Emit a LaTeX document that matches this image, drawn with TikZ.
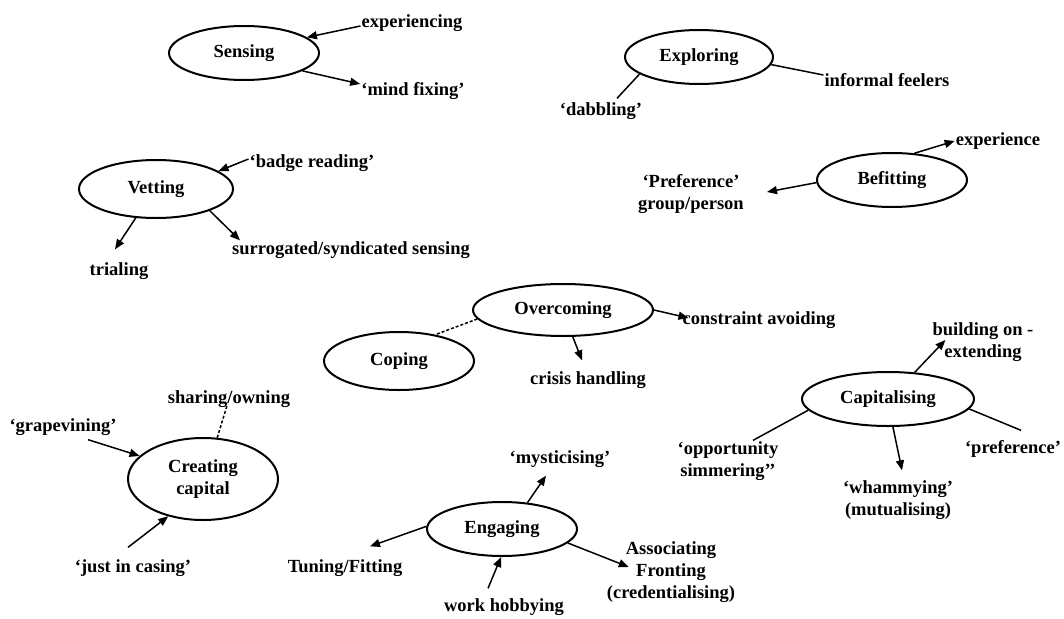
\documentclass[tikz,border=0pt]{standalone}
\usepackage{fontspec}
\setmainfont{Liberation Serif}
\usetikzlibrary{shapes.geometric,arrows.meta}
\begin{document}
\begin{tikzpicture}[x=1pt,y=-1pt,
  every node/.style={font=\fontsize{18.5}{22}\selectfont\bfseries},
  oval/.style={ellipse,draw,line width=2pt,inner sep=0pt},
  lbl/.style={inner sep=1pt,align=center},
  arr/.style={line width=1.5pt,-{Triangle[length=10pt,width=8pt]}},
  ln/.style={line width=1.5pt},
  dsh/.style={line width=1.5pt,dash pattern=on 3pt off 2pt}]
\useasboundingbox (0,0) rectangle (1064,618);
% ellipses
\node[oval,minimum width=150pt,minimum height=54pt] (sens) at (244,53) {Sensing};
\node[oval,minimum width=148pt,minimum height=54pt] (expl) at (699,57) {Exploring};
\node[oval,minimum width=150pt,minimum height=54pt] (befit) at (892,180) {Befitting};
\node[oval,minimum width=154pt,minimum height=58pt] (vet) at (156,189) {Vetting};
\node[oval,minimum width=180pt,minimum height=52pt] (over) at (563,310) {Overcoming};
\node[oval,minimum width=150pt,minimum height=58pt] (cop) at (399,361) {Coping};
\node[oval,minimum width=172pt,minimum height=54pt] (cap) at (888,399) {Capitalising};
\node[oval,minimum width=150pt,minimum height=82pt,align=center] (create) at (203,479) {Creating\\capital};
\node[oval,minimum width=150pt,minimum height=54pt] (eng) at (502,529) {Engaging};
% labels
\node[lbl] (expg) at (412,23) {experiencing};
\node[lbl] (mind) at (413,91) {‘mind fixing’};
\node[lbl] (inf) at (887,80) {informal feelers};
\node[lbl] (dab) at (601,111) {‘dabbling’};
\node[lbl] (exper) at (998,141) {experience};
\node[lbl] (pref) at (691,194) {‘Preference’\\group/person};
\node[lbl] (badge) at (312,163) {‘badge reading’};
\node[lbl] (trial) at (119,271) {trialing};
\node[lbl] (surro) at (351,250) {surrogated/syndicated sensing};
\node[lbl] (cons) at (759,320) {constraint avoiding};
\node[lbl] (crisis) at (588,380) {crisis handling};
\node[lbl] (build) at (983,342) {building on -\\extending};
\node[lbl] (opp) at (728,461) {‘opportunity\\simmering’’};
\node[lbl] (pref2) at (1013,449) {‘preference’};
\node[lbl] (wham) at (898,500) {‘whammying’\\(mutualising)};
\node[lbl] (share) at (229,399) {sharing/owning};
\node[lbl] (grape) at (63,427) {‘grapevining’};
\node[lbl] (just) at (133,568) {‘just in casing’};
\node[lbl] (myst) at (560,459) {‘mysticising’};
\node[lbl] (tun) at (345,568) {Tuning/Fitting};
\node[lbl] (work) at (504,607) {work hobbying};
\node[lbl] (assoc) at (671,572) {Associating\\Fronting\\(credentialising)};
% connectors
\draw[arr] ([yshift=-3pt]expg.west) -- (sens.14);
\draw[arr] (sens.-17) -- ([yshift=7pt]mind.west);
\draw[ln] (expl.-6) -- ([yshift=5pt]inf.west);
\draw[ln] (expl.196) -- ([xshift=16pt,yshift=3pt]dab.north);
\draw[arr] (befit.50) -- (exper.west);
\draw[arr] (befit.182) -- ([xshift=22pt,yshift=2pt]pref.east);
\draw[arr] ([yshift=4pt]badge.west) -- (vet.16);
\draw[arr] (vet.235) -- ([xshift=-4pt,yshift=12pt]trial.north);
\draw[arr] (vet.-22) -- ([xshift=9pt]surro.north west);
\draw[dsh] (over.186) -- (cop.36);
\draw[arr] (over.0) -- ([xshift=7pt,yshift=2pt]cons.west);
\draw[arr] (over.-70) -- ([xshift=-6pt,yshift=10pt]crisis.north);
\draw[arr] (cap.45) -- ([xshift=14pt,yshift=2pt]build.west);
\draw[ln] (cap.188) -- ([xshift=25pt]opp.north);
\draw[ln] (cap.-7) -- ([xshift=8pt,yshift=9pt]pref2.north);
\draw[arr] (cap.-80) -- ([xshift=4pt,yshift=9pt]wham.north);
\draw[dsh] (create.71) -- ([xshift=-2pt,yshift=3pt]share.south);
\draw[arr] ([xshift=25pt,yshift=-3pt]grape.south) -- (create.160);
\draw[arr] ([xshift=-5pt,yshift=11pt]just.north) -- (create.227);
\draw[arr] (eng.46) -- ([xshift=-14pt,yshift=-7pt]myst.south);
\draw[arr] (eng.178) -- ([xshift=25pt,yshift=12pt]tun.north);
\draw[arr] ([xshift=-16pt,yshift=9pt]work.north) -- (eng.-92);
\draw[arr] (eng.-12) -- ([xshift=23pt,yshift=5pt]assoc.west);
\end{tikzpicture}
\end{document}
